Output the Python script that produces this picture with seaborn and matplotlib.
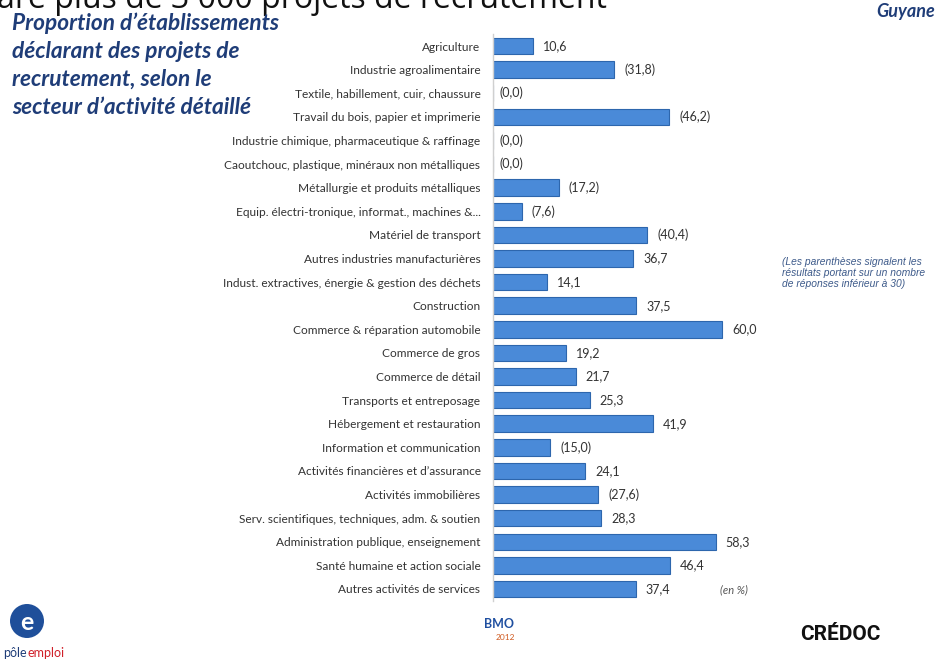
import matplotlib
matplotlib.use("Agg")
import matplotlib.pyplot as plt
from matplotlib.patches import Ellipse
import seaborn as sns
import pandas as pd

# Sectors, shares (%) and whether the share rests on fewer than 30 answers
sectors = [
    "Agriculture",
    "Industrie agroalimentaire",
    "Textile, habillement, cuir, chaussure",
    "Travail du bois, papier et imprimerie",
    "Industrie chimique, pharmaceutique & raffinage",
    "Caoutchouc, plastique, minéraux non métalliques",
    "Métallurgie et produits métalliques",
    "Equip. électri-tronique, informat., machines &...",
    "Matériel de transport",
    "Autres industries manufacturières",
    "Indust. extractives, énergie & gestion des déchets",
    "Construction",
    "Commerce & réparation automobile",
    "Commerce de gros",
    "Commerce de détail",
    "Transports et entreposage",
    "Hébergement et restauration",
    "Information et communication",
    "Activités financières et d’assurance",
    "Activités immobilières",
    "Serv. scientifiques, techniques, adm. & soutien",
    "Administration publique, enseignement",
    "Santé humaine et action sociale",
    "Autres activités de services",
]
shares = [10.6, 31.8, 0.0, 46.2, 0.0, 0.0, 17.2, 7.6, 40.4, 36.7, 14.1, 37.5,
          60.0, 19.2, 21.7, 25.3, 41.9, 15.0, 24.1, 27.6, 28.3, 58.3, 46.4, 37.4]
small_sample = [False, True, True, True, True, True, True, True, True, False,
                False, False, False, False, False, False, False, True, False,
                True, False, False, False, False]

title_lines = [
    "Proportion d’établissements",
    "déclarant des projets de",
    "recrutement, selon le",
    "secteur d’activité détaillé",
]

df = pd.DataFrame({"secteur": sectors, "part": shares})

sns.set_theme(style="white")
plt.rcParams["font.family"] = ["Lato", "DejaVu Sans"]

W, H = 940, 662
fig = plt.figure(figsize=(W / 100, H / 100), dpi=100)
fig.patch.set_facecolor("white")

# axes: y spine at x=493 px, rows from y=46 to y=589 px
left, right = 493, 900
top, bottom = 34.2, 600.8
ax = fig.add_axes([left / W, 1 - bottom / H, (right - left) / W, (bottom - top) / H])

sns.barplot(data=df, y="secteur", x="part", orient="h", ax=ax,
            color="#4a8ad8", edgecolor="#2d66ad", linewidth=0.8,
            width=0.70, saturation=1)

px_per_unit = 3.82
ax.set_xlim(0, (right - left) / px_per_unit)
ax.set_ylim(len(sectors) - 0.5, -0.5)
ax.set_xlabel("")
ax.set_ylabel("")
ax.set_xticks([])
ax.tick_params(axis="y", length=0, pad=9, labelsize=8.6, labelcolor="#333333")
for s in ["top", "right", "bottom"]:
    ax.spines[s].set_visible(False)
ax.spines["left"].set_color("#d0d0d0")
ax.spines["left"].set_linewidth(1.0)

# value labels, in parentheses for small samples
for i, (v, flag) in enumerate(zip(shares, small_sample)):
    txt = f"{v:.1f}".replace(".", ",")
    if flag:
        txt = f"({txt})"
    off = 1.8 if v == 0 else 2.6
    ax.text(v + off, i, txt, va="center", ha="left", fontsize=9, color="#333333")

# headline running off the top edge
fig.text(-0.003, 1 - 8 / H, "are plus de 3 000 projets de recrutement",
         fontsize=23, color="#111111", va="baseline", ha="left",
         family=["Open Sans", "DejaVu Sans"])

# chart title, one baseline per line
for k, line in enumerate(title_lines):
    fig.text(12 / W, 1 - (30 + 28 * k) / H, line,
             fontsize=16.3, fontweight="bold", fontstyle="italic", color="#1f3d78",
             va="baseline", ha="left", family=["Lato", "DejaVu Sans"])

fig.text(935 / W, 1 - 12 / H, "Guyane", fontsize=13, fontweight="bold",
         fontstyle="italic", color="#1f3d78", va="center", ha="right",
         family=["Lato", "DejaVu Sans"])
fig.text(782 / W, 1 - 257 / H,
         "(Les parenthèses signalent les\nrésultats portant sur un nombre\nde réponses inférieur à 30)",
         fontsize=7.4, fontstyle="italic", color="#3d5a8a", va="top", ha="left",
         linespacing=1.15, family=["Liberation Sans", "DejaVu Sans"])
fig.text(720 / W, 1 - 590 / H, "(en %)", fontsize=8, fontstyle="italic",
         color="#555555", va="center", ha="left")

# footer marks
fig.patches.append(Ellipse((27 / W, 1 - 621 / H), 34 / W, 34 / H,
                           transform=fig.transFigure,
                           facecolor="#1f4f9a", edgecolor="none"))
fig.text(27 / W, 1 - 622 / H, "e", fontsize=18, color="white",
         va="center", ha="center", fontweight="bold")
fig.text(3 / W, 1 - 657 / H, "pôle", fontsize=9, color="#1f3d78",
         va="baseline", ha="left")
fig.text(28 / W, 1 - 657 / H, "emploi", fontsize=9, color="#d0202a",
         va="baseline", ha="left")
fig.text(484 / W, 1 - 624 / H, "BMO", fontsize=9, color="#1f4fa0",
         va="center", ha="left", fontweight="bold")
fig.text(496 / W, 1 - 637 / H, "2012", fontsize=6, color="#d05a20",
         va="center", ha="left")
fig.text(800 / W, 1 - 634 / H, "CRÉDOC", fontsize=15, color="#111111",
         va="center", ha="left", fontweight="bold",
         family=["Roboto", "DejaVu Sans"])

fig.savefig("out.png", dpi=100, facecolor="white")
